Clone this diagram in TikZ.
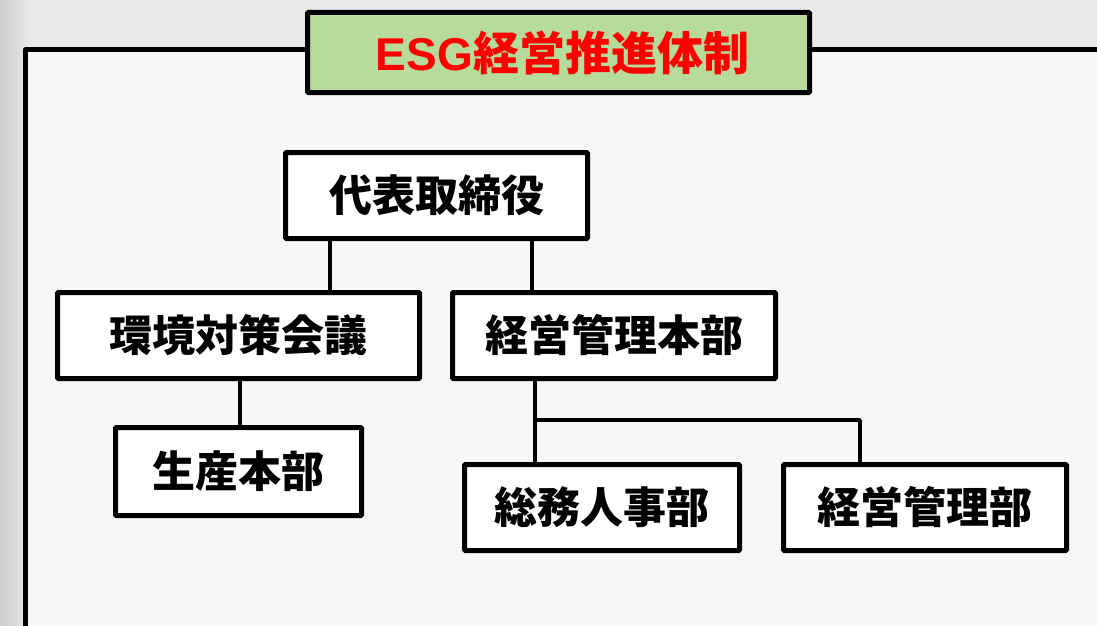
\documentclass[tikz,border=0pt]{standalone}
\usepackage{fontspec}
\newfontfamily\jp{Noto Sans CJK JP}
\newfontfamily\lat{Liberation Sans}
\definecolor{bgout}{HTML}{E9E9E9}
\definecolor{bgleft}{HTML}{CDCDCD}
\definecolor{bgin}{HTML}{F7F7F7}
\definecolor{titlegreen}{HTML}{B7DB9B}
\definecolor{titlered}{HTML}{FF0000}
\begin{document}
\begin{tikzpicture}[x=1pt,y=-1pt,
  orgbox/.style={draw=black, line width=5pt, fill=white, rounded corners=1pt,
    inner sep=0pt, font=\jp\bfseries\fontsize{43}{47}\selectfont},
  titlebox/.style={orgbox, fill=titlegreen, text=titlered,
    font=\jp\bfseries\fontsize{46}{50}\selectfont},
  conn/.style={draw=black, line width=3.5pt},
  frame/.style={draw=black, line width=5pt, line join=round}]
\useasboundingbox (0,0) rectangle (1097,626);
% background
\fill[bgout] (0,0) rectangle (1097,626);
\shade[left color=bgleft, right color=bgout] (0,0) rectangle (30,626);
\fill[bgin] (25,50) rectangle (1100,630);
\draw[frame] (25,640) -- (25,50) -- (1110,50);
% nodes
\node[titlebox, minimum width=502pt, minimum height=80pt] (title) at (558.5,52.5) {\hspace{8pt}{\lat\bfseries ESG}経営推進体制};
\node[orgbox, minimum width=302pt, minimum height=86pt] (ceo) at (436.5,195.5) {代表取締役};
\node[orgbox, minimum width=362pt, minimum height=86pt] (env) at (238.5,335.5) {環境対策会議};
\node[orgbox, minimum width=323pt, minimum height=86pt] (mgmt) at (614,335.5) {経営管理本部};
\node[orgbox, minimum width=246pt, minimum height=88pt] (prod) at (238.5,471.5) {生産本部};
\node[orgbox, minimum width=275pt, minimum height=86pt] (hr) at (602,507.5) {総務人事部};
\node[orgbox, minimum width=283pt, minimum height=86pt] (acct) at (925,507.5) {経営管理部};
% connectors
\coordinate (xa) at (330,0);
\coordinate (xb) at (532,0);
\coordinate (xc) at (240,0);
\coordinate (xd) at (535,0);
\coordinate (xe) at (860,0);
\coordinate (yb) at (0,420);
\draw[conn] (ceo.south -| xa) -- (env.north -| xa);
\draw[conn] (ceo.south -| xb) -- (mgmt.north -| xb);
\draw[conn] (env.south -| xc) -- (prod.north -| xc);
\draw[conn] (mgmt.south -| xd) -- (hr.north -| xd);
\draw[conn, line join=round] (xd |- yb) -- (xe |- yb) -- (acct.north -| xe);
\end{tikzpicture}
\end{document}
